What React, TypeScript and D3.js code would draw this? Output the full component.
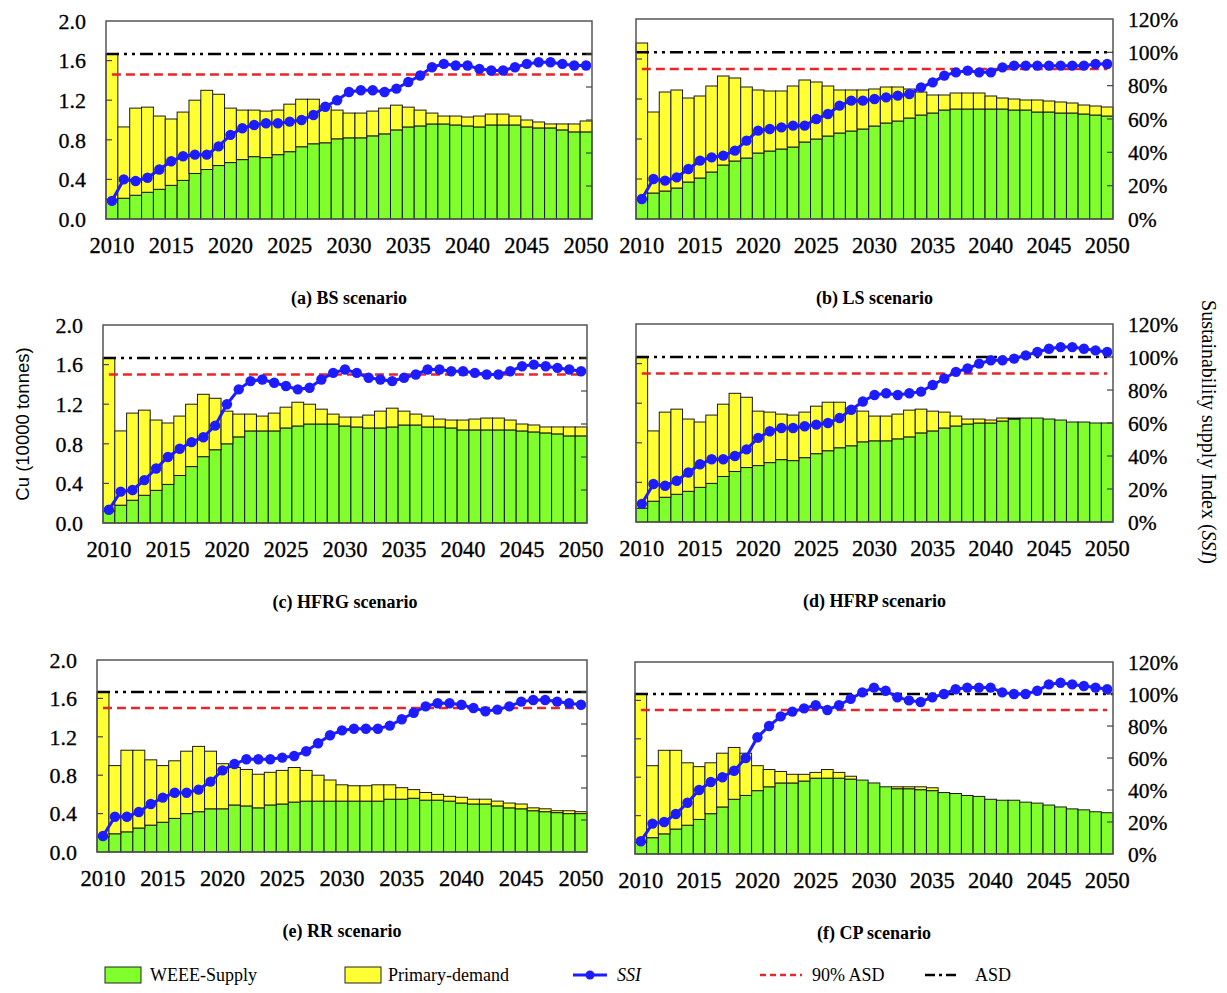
import React from "react";
import * as d3 from "d3";

// ---------- categories & ticks ----------
const years = [
  2010, 2011, 2012, 2013, 2014, 2015, 2016, 2017, 2018, 2019, 2020, 2021, 2022, 2023,
  2024, 2025, 2026, 2027, 2028, 2029, 2030, 2031, 2032, 2033, 2034, 2035, 2036, 2037,
  2038, 2039, 2040, 2041, 2042, 2043, 2044, 2045, 2046, 2047, 2048, 2049, 2050,
];
const xTickYears = [2010, 2015, 2020, 2025, 2030, 2035, 2040, 2045, 2050];
const leftTicks = [0, 0.4, 0.8, 1.2, 1.6, 2.0];
const rightTicks = [0, 20, 40, 60, 80, 100, 120];
const ASD = 1.667; // 100% level on left axis (10000 tonnes)

// ---------- (a) BS ----------
const bsSupply = [0.20,0.21,0.24,0.27,0.30,0.34,0.39,0.46,0.50,0.54,0.57,0.60,0.63,0.62,0.65,0.68,0.73,0.76,0.77,0.81,0.82,0.82,0.84,0.86,0.90,0.93,0.94,0.96,0.96,0.95,0.94,0.93,0.95,0.95,0.95,0.93,0.92,0.92,0.90,0.88,0.88];
const bsPrimary = [1.47,0.72,0.88,0.86,0.74,0.67,0.69,0.74,0.80,0.72,0.55,0.50,0.47,0.47,0.45,0.48,0.48,0.45,0.37,0.29,0.25,0.25,0.25,0.26,0.25,0.20,0.16,0.11,0.08,0.09,0.09,0.11,0.11,0.11,0.09,0.07,0.06,0.04,0.06,0.08,0.11];
const bsSSI = [11,24,23,25,30,35,38,39,39,44,51,55,57,58,58,59,60,63,68,72,77,78,78,77,79,83,87,92,94,93,93,91,90,90,92,94,95,95,94,93,93];
const bsRed = 1.46;

// ---------- (b) LS ----------
const lsSupply = [0.20,0.26,0.28,0.31,0.37,0.41,0.47,0.54,0.58,0.61,0.66,0.68,0.70,0.72,0.77,0.80,0.83,0.86,0.88,0.90,0.93,0.96,0.98,1.01,1.04,1.06,1.09,1.10,1.10,1.10,1.10,1.10,1.09,1.09,1.07,1.07,1.06,1.06,1.05,1.04,1.03];
const lsPrimary = [1.56,0.81,0.99,0.98,0.84,0.82,0.86,0.89,0.83,0.71,0.63,0.60,0.58,0.61,0.62,0.57,0.50,0.43,0.41,0.39,0.37,0.36,0.34,0.29,0.23,0.18,0.15,0.16,0.16,0.16,0.13,0.11,0.11,0.10,0.12,0.11,0.11,0.10,0.09,0.09,0.09];
const lsSSI = [12,24,23,25,30,35,37,38,41,47,53,54,55,56,56,60,63,68,71,71,72,73,74,75,79,82,86,88,89,88,88,91,92,92,92,92,92,92,92,93,93];
const lsRed = 1.5;

// ---------- (c) HFRG ----------
const hfrgSupply = [0.12,0.18,0.23,0.28,0.33,0.39,0.48,0.57,0.67,0.74,0.80,0.87,0.93,0.93,0.93,0.96,0.98,1.00,1.00,1.00,0.98,0.97,0.96,0.96,0.97,0.99,0.99,0.97,0.97,0.96,0.94,0.94,0.94,0.94,0.94,0.93,0.92,0.91,0.90,0.88,0.88];
const hfrgPrimary = [1.55,0.75,0.88,0.86,0.71,0.62,0.60,0.63,0.63,0.52,0.33,0.23,0.17,0.15,0.18,0.21,0.24,0.20,0.15,0.10,0.09,0.10,0.13,0.17,0.19,0.14,0.11,0.11,0.08,0.08,0.10,0.11,0.12,0.12,0.10,0.07,0.07,0.06,0.07,0.09,0.09];
const hfrgSSI = [8,19,20,26,33,40,45,49,52,59,72,81,86,87,85,83,81,82,87,91,93,91,88,87,86,88,90,93,93,92,92,91,90,90,92,95,96,95,94,93,92];
const hfrgRed = 1.5;

// ---------- (d) HFRP ----------
const hfrpSupply = [0.14,0.21,0.25,0.28,0.31,0.35,0.39,0.46,0.51,0.55,0.57,0.60,0.63,0.62,0.65,0.69,0.72,0.75,0.77,0.81,0.82,0.82,0.84,0.86,0.90,0.92,0.95,0.97,0.99,1.00,1.00,1.02,1.04,1.05,1.05,1.04,1.03,1.01,1.01,1.00,1.00];
const hfrpPrimary = [1.52,0.71,0.86,0.86,0.73,0.66,0.69,0.73,0.79,0.71,0.55,0.51,0.46,0.46,0.46,0.48,0.49,0.46,0.38,0.31,0.25,0.25,0.25,0.27,0.24,0.20,0.16,0.10,0.05,0.04,0.03,0.03,0.01,0,0,0,0,0,0,0,0];
const hfrpSSI = [11,23,22,25,30,35,38,38,40,44,51,55,57,57,58,59,60,63,68,73,77,78,77,78,79,83,87,91,93,96,98,98,99,101,103,105,106,106,105,104,103];
const hfrpRed = 1.5;

// ---------- (e) RR ----------
const rrSupply = [0.16,0.19,0.21,0.25,0.28,0.31,0.35,0.40,0.42,0.45,0.45,0.49,0.48,0.46,0.49,0.50,0.52,0.53,0.53,0.53,0.53,0.53,0.53,0.53,0.55,0.55,0.56,0.54,0.54,0.53,0.51,0.50,0.50,0.48,0.46,0.45,0.43,0.42,0.41,0.40,0.40];
const rrPrimary = [1.51,0.71,0.85,0.81,0.68,0.59,0.60,0.65,0.68,0.60,0.47,0.39,0.38,0.35,0.34,0.35,0.36,0.32,0.27,0.22,0.17,0.16,0.16,0.17,0.15,0.12,0.09,0.08,0.06,0.05,0.06,0.05,0.05,0.05,0.05,0.05,0.03,0.03,0.02,0.03,0.02];
const rrSSI = [10,22,22,25,30,34,37,37,39,44,51,55,58,58,58,59,60,63,68,73,76,77,77,77,79,83,87,91,93,93,92,90,88,89,91,94,95,95,94,93,92];
const rrRed = 1.5;

// ---------- (f) CP ----------
const cpSupply = [0.12,0.17,0.21,0.26,0.30,0.36,0.42,0.49,0.57,0.61,0.66,0.70,0.74,0.74,0.76,0.79,0.79,0.79,0.78,0.77,0.74,0.70,0.68,0.68,0.67,0.66,0.64,0.63,0.61,0.60,0.57,0.56,0.56,0.54,0.53,0.51,0.49,0.47,0.46,0.44,0.43];
const cpPrimary = [1.55,0.75,0.87,0.82,0.65,0.55,0.53,0.56,0.54,0.44,0.26,0.18,0.12,0.09,0.07,0.06,0.09,0.06,0.03,0.00,0,0,0.02,0.02,0.03,0.03,0,0,0,0,0,0,0,0,0,0,0,0,0,0,0];
const cpSSI = [8,19,20,25,32,40,45,48,52,60,73,80,86,89,91,93,90,93,97,101,104,102,98,96,95,98,100,103,104,104,104,101,100,100,102,106,107,106,105,104,103];
const cpRed = 1.5;

const panelTitles = ["(a) BS scenario", "(b) LS scenario", "(c) HFRG scenario", "(d) HFRP scenario", "(e) RR scenario", "(f) CP scenario"];

const panels = [
  { title: panelTitles[0], supply: bsSupply, primary: bsPrimary, ssi: bsSSI, red: bsRed },
  { title: panelTitles[1], supply: lsSupply, primary: lsPrimary, ssi: lsSSI, red: lsRed },
  { title: panelTitles[2], supply: hfrgSupply, primary: hfrgPrimary, ssi: hfrgSSI, red: hfrgRed },
  { title: panelTitles[3], supply: hfrpSupply, primary: hfrpPrimary, ssi: hfrpSSI, red: hfrpRed },
  { title: panelTitles[4], supply: rrSupply, primary: rrPrimary, ssi: rrSSI, red: rrRed },
  { title: panelTitles[5], supply: cpSupply, primary: cpPrimary, ssi: cpSSI, red: cpRed },
];

// ---------- layout (pixels) ----------
const layout = [
  { left: 106, right: 592, top: 21, bottom: 219, showLeft: true, showRight: false },
  { left: 636, right: 1113, top: 19, bottom: 219, showLeft: false, showRight: true },
  { left: 103, right: 587, top: 325, bottom: 523, showLeft: true, showRight: false },
  { left: 636, right: 1113, top: 324, bottom: 522, showLeft: false, showRight: true },
  { left: 97, right: 587, top: 660, bottom: 852, showLeft: true, showRight: false },
  { left: 635, right: 1113, top: 662, bottom: 854, showLeft: false, showRight: true },
];

const GREEN = "#80ff2c";
const YELLOW = "#ffff33";
const BLUE = "#1c1cff";
const RED = "#e8262a";
const SERIF = "'Liberation Serif', 'Times New Roman', serif";
const SANS = "'Liberation Sans', Arial, sans-serif";
const ASD_DASH = "13,5,3,5,3,5";
const RED_DASH = "9,5";
const TXT = { fontFamily: SERIF, fill: "#000", stroke: "#000", strokeWidth: 0.3 } as any;

function Panel({ p, L }: { p: any; L: any }) {
  const x = d3.scaleBand<number>().domain(years).range([L.left, L.right]).padding(0);
  const y = d3.scaleLinear().domain([0, 2]).range([L.bottom, L.top]);
  const yR = d3.scaleLinear().domain([0, 120]).range([L.bottom, L.top]);
  const bw = x.bandwidth();
  const rows = years.map((yr, i) => ({ year: yr, supply: p.supply[i], primary: p.primary[i] }));
  const stacked = d3.stack<any>().keys(["supply", "primary"])(rows);
  const cx = (i: number) => (x(years[i]) as number) + bw / 2;
  const line = d3
    .line<number>()
    .x((_, i) => cx(i))
    .y((d) => yR(d));
  const fills = [GREEN, YELLOW];
  return (
    <g>
      <rect x={L.left} y={L.top} width={L.right - L.left} height={L.bottom - L.top} fill="#fff" />
      {stacked.map((s, si) => (
        <g key={si}>
          {s.map((d, i) => (
            <rect
              key={i}
              x={x(years[i])}
              y={y(d[1])}
              width={bw}
              height={Math.max(0, y(d[0]) - y(d[1]))}
              fill={fills[si]}
              stroke="#1a1a1a"
              strokeWidth={1}
            />
          ))}
        </g>
      ))}
      {/* ASD and 90% ASD */}
      <line x1={L.left} x2={L.right} y1={y(ASD)} y2={y(ASD)} stroke="#000" strokeWidth={2.5} strokeDasharray={ASD_DASH} />
      <line x1={cx(0)} x2={cx(years.length - 1)} y1={y(p.red)} y2={y(p.red)} stroke={RED} strokeWidth={2.5} strokeDasharray={RED_DASH} />
      {/* SSI */}
      <path d={line(p.ssi) as string} fill="none" stroke={BLUE} strokeWidth={3} />
      {p.ssi.map((v: number, i: number) => (
        <circle key={i} cx={cx(i)} cy={yR(v)} r={5.2} fill={BLUE} />
      ))}
      {/* frame */}
      <rect x={L.left} y={L.top} width={L.right - L.left} height={L.bottom - L.top} fill="none" stroke="#555" strokeWidth={1.5} />
      {/* inner ticks */}
      {leftTicks.slice(1, -1).map((t) => (
        <line key={"lt" + t} x1={L.left} x2={L.left + 6} y1={y(t)} y2={y(t)} stroke="#444" strokeWidth={1.2} />
      ))}
      {rightTicks.slice(1, -1).map((t) => (
        <line key={"rt" + t} x1={L.right - 6} x2={L.right} y1={yR(t)} y2={yR(t)} stroke="#444" strokeWidth={1.2} />
      ))}
      {/* tick labels */}
      {L.showLeft &&
        leftTicks.map((t) => (
          <text key={"ll" + t} {...TXT} x={L.left - 20} y={y(t)} dy="0.35em" textAnchor="end" fontSize={22}>
            {t.toFixed(1)}
          </text>
        ))}
      {L.showRight &&
        rightTicks.map((t) => (
          <text key={"rl" + t} {...TXT} x={L.right + 15} y={yR(t)} dy="0.35em" textAnchor="start" fontSize={21.5}>
            {t + "%"}
          </text>
        ))}
      {xTickYears.map((yr) => (
        <text key={"x" + yr} {...TXT} x={(x(yr) as number) + bw / 2} y={L.bottom + 26} dy="0.35em" textAnchor="middle" fontSize={22.5}>
          {yr}
        </text>
      ))}
      <text x={(L.left + L.right) / 2} y={L.bottom + 79} dy="0.35em" textAnchor="middle" fontFamily={SERIF} fontSize={18} fontWeight="bold" fill="#000">
        {p.title}
      </text>
    </g>
  );
}

const legendLabels = ["WEEE-Supply", "Primary-demand", "SSI", "90% ASD", "ASD"];

export default function App() {
  const ly = 975;
  return (
    <svg width={1227} height={993} style={{ position: "absolute", left: 0, top: 0, background: "#fff" }}>
      <rect x={0} y={0} width={1227} height={993} fill="#fff" />
      {panels.map((p, i) => (
        <Panel key={i} p={p} L={layout[i]} />
      ))}
      {/* axis titles */}
      <text transform="translate(23,424) rotate(-90)" textAnchor="middle" dy="0.35em" fontFamily={SANS} fontSize={18.5} fill="#000">
        Cu (10000 tonnes)
      </text>
      <text transform="translate(1209,432) rotate(90)" textAnchor="middle" dy="0.35em" fontFamily={SERIF} fontSize={20} fill="#000">
        Sustainability supply Index (<tspan fontStyle="italic">SSI</tspan>)
      </text>
      {/* legend */}
      <g fontFamily={SERIF} fontSize={18} fill="#000">
        <rect x={105} y={ly - 8} width={36} height={16} fill={GREEN} stroke="#222" strokeWidth={1} />
        <text x={150} y={ly} dy="0.35em">{legendLabels[0]}</text>
        <rect x={345} y={ly - 8} width={36} height={16} fill={YELLOW} stroke="#222" strokeWidth={1} />
        <text x={388} y={ly} dy="0.35em">{legendLabels[1]}</text>
        <line x1={573} x2={607} y1={ly} y2={ly} stroke={BLUE} strokeWidth={3} />
        <circle cx={590} cy={ly} r={4.5} fill={BLUE} />
        <text x={617} y={ly} dy="0.35em" fontStyle="italic">{legendLabels[2]}</text>
        <line x1={760} x2={802} y1={ly} y2={ly} stroke={RED} strokeWidth={2.5} strokeDasharray="6,4" />
        <text x={812} y={ly} dy="0.35em">{legendLabels[3]}</text>
        <line x1={925} x2={960} y1={ly} y2={ly} stroke="#000" strokeWidth={2.5} strokeDasharray="10,4,3,4" />
        <text x={975} y={ly} dy="0.35em">{legendLabels[4]}</text>
      </g>
    </svg>
  );
}
